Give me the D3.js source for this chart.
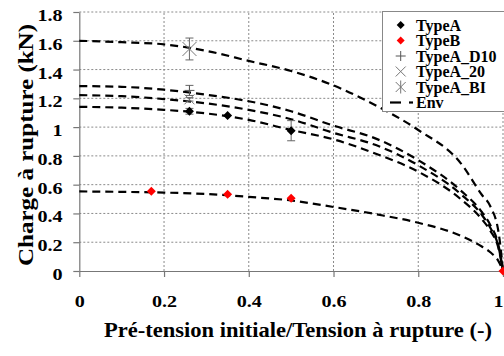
<!DOCTYPE html>
<html><head><meta charset="utf-8">
<script src="https://cdn.jsdelivr.net/npm/d3@7"></script>
<style>
html,body{margin:0;padding:0;background:#fff;}
svg{display:block;}
</style></head>
<body>
<svg id="c" width="504" height="356"></svg>
<script>
// ---- data ----
const envX    = [0, 0.1, 0.2, 0.3, 0.4, 0.5, 0.6, 0.7, 0.8, 0.9, 0.95, 0.97, 0.99, 1];
const envBI   = [1.60, 1.59, 1.575, 1.53, 1.46, 1.39, 1.29, 1.15, 0.98, 0.75, 0.53, 0.45, 0.26, 0];
const envD10  = [1.285, 1.28, 1.26, 1.225, 1.18, 1.11, 1.01, 0.92, 0.77, 0.56, 0.41, 0.32, 0.17, 0];
const env20   = [1.222, 1.215, 1.195, 1.165, 1.12, 1.055, 0.96, 0.875, 0.735, 0.535, 0.39, 0.30, 0.16, 0];
const envA    = [1.141, 1.135, 1.12, 1.095, 1.05, 0.98, 0.915, 0.815, 0.69, 0.50, 0.36, 0.28, 0.15, 0];
const envB    = [0.553, 0.55, 0.545, 0.535, 0.515, 0.49, 0.445, 0.395, 0.335, 0.245, 0.17, 0.13, 0.065, 0];

const typeAX = [0.26, 0.35, 0.5];
const typeAY = [1.11, 1.08, 0.975];
const typeAErr = [0.02, 0, 0.07];
const typeBX = [0.17, 0.35, 0.5, 1];
const typeBY = [0.555, 0.533, 0.505, 0];
const d10X = [0.26], d10Y = [1.255], d10Err = [0.035];
const t20X = [0.26], t20Y = [1.193], t20Err = [0.012];
const biX = [0.26], biY = [1.543], biErr = [0.076];

const xTicks = [0, 0.2, 0.4, 0.6, 0.8, 1];
const yTicks = [0, 0.2, 0.4, 0.6, 0.8, 1, 1.2, 1.4, 1.6, 1.8];
const legendLabels = ["TypeA", "TypeB", "TypeA_D10", "TypeA_20", "TypeA_BI", "Env"];
const xTitle = "Pré-tension initiale/Tension à rupture (-)";
const yTitle = "Charge à rupture (kN)";

// ---- layout ----
const FONT = "Liberation Serif";
const svg = d3.select("#c");
const x = d3.scaleLinear().domain([0, 1]).range([79.3, 503]);
const y = d3.scaleLinear().domain([0, 1.8]).range([271, 12]);
const gridCol = "#8a8a8a";
function serif(sel, size) {
  return sel.style("font-family", FONT).style("font-weight", "bold").style("font-size", size + "px");
}

// gridlines
svg.append("g").selectAll("line").data(yTicks.filter(d => d > 0)).join("line")
  .attr("x1", x(0)).attr("x2", x(1)).attr("y1", d => y(d)).attr("y2", d => y(d))
  .attr("stroke", gridCol).attr("stroke-width", 1).attr("stroke-dasharray", "2,2");
svg.append("g").selectAll("line").data(xTicks.filter(d => d > 0)).join("line")
  .attr("x1", d => x(d)).attr("x2", d => x(d)).attr("y1", y(0)).attr("y2", y(1.8))
  .attr("stroke", gridCol).attr("stroke-width", 1).attr("stroke-dasharray", "2,2");

// axes
const yAxis = svg.append("g").attr("transform", `translate(${x(0)},0)`)
  .call(d3.axisLeft(y).tickValues(yTicks).tickFormat(d3.format("~g")).tickSizeInner(6).tickSizeOuter(0).tickPadding(0));
const xAxis = svg.append("g").attr("transform", `translate(0,${y(0)})`)
  .call(d3.axisBottom(x).tickValues(xTicks).tickFormat(d3.format("~g")).tickSizeInner(6).tickSizeOuter(0).tickPadding(0));
[yAxis, xAxis].forEach(a => {
  a.attr("font-family", FONT).attr("font-size", 17);
  a.select(".domain").attr("stroke", "#777").attr("stroke-width", 1.2);
  a.selectAll(".tick line").attr("stroke", "#777").attr("stroke-width", 1.2);
  serif(a.selectAll(".tick text"), 17.5).attr("fill", "#000");
});
yAxis.selectAll(".tick text").attr("x", -14.5).attr("dy", null).attr("y", 8.5)
  .attr("transform", "scale(1.15,1)").attr("text-anchor", "end");
xAxis.selectAll(".tick text").attr("y", 36).attr("dy", null)
  .attr("transform", "scale(1.15,1)")
  .filter(d => d === 1).attr("text-anchor", "end").attr("x", 0);

// titles
serif(svg.append("text"), 21).attr("x", 298).attr("y", 337).attr("text-anchor", "middle")
  .attr("textLength", 388).attr("lengthAdjust", "spacingAndGlyphs").text(xTitle);
serif(svg.append("text"), 21).attr("transform", "translate(33,145) rotate(-90)").attr("text-anchor", "middle")
  .attr("textLength", 242).attr("lengthAdjust", "spacingAndGlyphs").text(yTitle);

// envelope curves
const line = d3.line().x(d => x(d[0])).y(d => y(d[1])).curve(d3.curveMonotoneX);
[envBI, envD10, env20, envA, envB].forEach(arr => {
  svg.append("path").datum(envX.map((v, i) => [v, arr[i]]))
    .attr("d", line).attr("fill", "none").attr("stroke", "#000")
    .attr("stroke-width", 2.2).attr("stroke-dasharray", "8,5");
});

// error bars
function errBars(xsArr, ysArr, errs) {
  xsArr.forEach((xv, i) => {
    const e = errs[i]; if (!e) return;
    const g = svg.append("g").attr("stroke", "#666").attr("stroke-width", 1);
    g.append("line").attr("x1", x(xv)).attr("x2", x(xv)).attr("y1", y(ysArr[i] - e)).attr("y2", y(ysArr[i] + e));
    g.append("line").attr("x1", x(xv) - 4).attr("x2", x(xv) + 4).attr("y1", y(ysArr[i] - e)).attr("y2", y(ysArr[i] - e));
    g.append("line").attr("x1", x(xv) - 4).attr("x2", x(xv) + 4).attr("y1", y(ysArr[i] + e)).attr("y2", y(ysArr[i] + e));
  });
}
errBars(typeAX, typeAY, typeAErr);
errBars(d10X, d10Y, d10Err);
errBars(t20X, t20Y, t20Err);
errBars(biX, biY, biErr);

// marker drawers
function diamond(g, cx, cy, col, s) {
  g.append("path").attr("d", `M${cx},${cy - s}L${cx + s},${cy}L${cx},${cy + s}L${cx - s},${cy}Z`).attr("fill", col);
}
function plus(g, cx, cy, s) {
  g.append("path").attr("d", `M${cx - s},${cy}H${cx + s}M${cx},${cy - s}V${cy + s}`)
    .attr("stroke", "#555").attr("stroke-width", 1).attr("fill", "none");
}
function cross(g, cx, cy, s) {
  g.append("path").attr("d", `M${cx - s},${cy - s}L${cx + s},${cy + s}M${cx - s},${cy + s}L${cx + s},${cy - s}`)
    .attr("stroke", "#777").attr("stroke-width", 1).attr("fill", "none");
}
function star(g, cx, cy, s) {
  cross(g, cx, cy, s);
  g.append("path").attr("d", `M${cx},${cy - s * 1.3}V${cy + s * 1.3}`)
    .attr("stroke", "#777").attr("stroke-width", 1);
}
const mg = svg.append("g");
typeAX.forEach((v, i) => diamond(mg, x(v), y(typeAY[i]), "#000", 4.5));
typeBX.forEach((v, i) => diamond(mg, x(v), y(typeBY[i]), "#ff0000", 4.5));
d10X.forEach((v, i) => plus(mg, x(v), y(d10Y[i]), 5));
t20X.forEach((v, i) => cross(mg, x(v), y(t20Y[i]), 5));
biX.forEach((v, i) => star(mg, x(v), y(biY[i]), 7));

// legend
const lg = svg.append("g");
lg.append("rect").attr("x", 382.5).attr("y", 11.5).attr("width", 130).attr("height", 100)
  .attr("fill", "#fff").attr("stroke", "#888").attr("stroke-width", 1);
const rowY = [25, 40.5, 56, 71.5, 87, 102.5];
legendLabels.forEach((t, i) => {
  serif(lg.append("text"), 16).attr("x", 416).attr("y", rowY[i] + 5.5).text(t);
});
diamond(lg, 400.7, rowY[0], "#000", 4);
diamond(lg, 400.7, rowY[1], "#ff0000", 4);
plus(lg, 400.7, rowY[2], 5);
cross(lg, 400.7, rowY[3], 5);
star(lg, 400.7, rowY[4], 5);
lg.append("line").attr("x1", 390).attr("x2", 401).attr("y1", rowY[5]).attr("y2", rowY[5]).attr("stroke", "#000").attr("stroke-width", 2.2);
lg.append("line").attr("x1", 409).attr("x2", 413).attr("y1", rowY[5]).attr("y2", rowY[5]).attr("stroke", "#000").attr("stroke-width", 2.2);
</script>
</body></html>
